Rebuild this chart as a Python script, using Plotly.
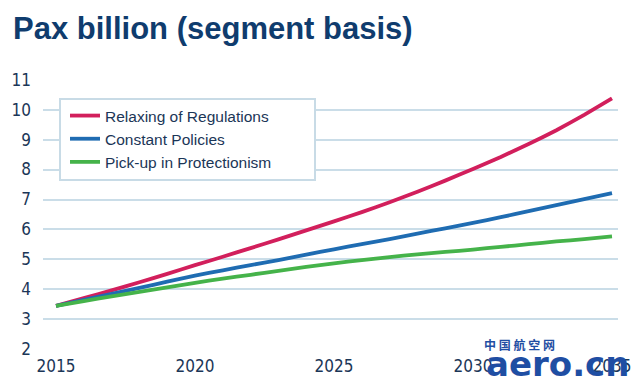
import plotly.graph_objects as go

years = list(range(2015, 2036))
relaxing = [3.45, 3.71, 3.97, 4.24, 4.52, 4.81, 5.09, 5.38, 5.67, 5.97, 6.27,
            6.58, 6.91, 7.26, 7.63, 8.02, 8.42, 8.85, 9.31, 9.82, 10.37]
constant = [3.45, 3.65, 3.85, 4.05, 4.26, 4.46, 4.64, 4.81, 4.98, 5.16, 5.34,
            5.51, 5.68, 5.86, 6.04, 6.22, 6.41, 6.61, 6.81, 7.01, 7.21]
protection = [3.45, 3.61, 3.77, 3.92, 4.07, 4.22, 4.36, 4.49, 4.62, 4.75, 4.87,
              4.98, 5.08, 5.17, 5.25, 5.33, 5.42, 5.51, 5.60, 5.68, 5.77]
series_names = ["Relaxing of Regulations", "Constant Policies", "Pick-up in Protectionism"]
series_colors = ["#d21f5c", "#1f6cb2", "#45b34a"]
x_ticks = [2015, 2020, 2025, 2030, 2035]
y_ticks = list(range(2, 12))
title_text = "Pax billion (segment basis)"

navy = "#1b3657"
tick_font = dict(family="Liberation Sans Narrow, DejaVu Sans Condensed, Liberation Sans, sans-serif",
                 size=17, color=navy)

# the page body has an 8px default margin; size the figure to fill the rest of the window
OFF = 8
W, H = 640 - OFF, 386 - OFF
ML, MR, MT, MB = 35, 22, 71, 36
PW, PH = W - ML - MR, H - MT - MB


def px_x(p):  # page pixel -> paper fraction
    return (p - OFF - ML) / PW


def px_y(p):
    return (H - MB - (p - OFF)) / PH


fig = go.Figure()
for name, vals, col in zip(series_names, [relaxing, constant, protection], series_colors):
    fig.add_trace(go.Scatter(x=years, y=vals, mode="lines", name=name,
                             line=dict(color=col, width=3.8, shape="spline", smoothing=0.3)))

fig.update_layout(
    width=W, height=H,
    margin=dict(l=ML, r=MR, t=MT, b=MB, autoexpand=False),
    paper_bgcolor="white", plot_bgcolor="white",
    title=dict(text="<b>" + title_text + "</b>", x=5 / W, xanchor="left", xref="container",
               y=1 - 20 / H, yanchor="middle", yref="container", pad=dict(l=0, t=0, b=0, r=0),
               font=dict(family="Liberation Sans, Arial, sans-serif", size=31, color="#0f3c6e")),
    xaxis=dict(range=[2014.532, 2035.216], tickvals=x_ticks, ticktext=[str(t) for t in x_ticks],
               showgrid=False, zeroline=False, showline=False, ticks="", tickfont=tick_font,
               ticklabelstandoff=4, automargin=False, fixedrange=True),
    yaxis=dict(range=[1.98, 11.02], tickvals=y_ticks, showgrid=True, gridcolor="#cadde8",
               gridwidth=2, zeroline=False, showline=False, ticks="", tickfont=tick_font,
               ticklabelstandoff=11, automargin=False, fixedrange=True),
    legend=dict(x=px_x(65), y=px_y(99), xanchor="left", yanchor="top",
                bgcolor="rgba(0,0,0,0)", borderwidth=0,
                font=dict(family="Liberation Sans, Arial, sans-serif", size=15.5, color=navy),
                itemwidth=30, tracegroupgap=0),
    showlegend=True,
)

# legend frame
fig.add_shape(type="rect", xref="paper", yref="paper", x0=px_x(60), x1=px_x(315),
              y0=px_y(180), y1=px_y(99), fillcolor="white",
              line=dict(color="#c8dbe6", width=2), layer="above")

# watermark
fig.add_annotation(text="<b>中 国 航 空 网</b>", xref="paper", yref="paper", x=px_x(482),
                   y=px_y(344), xanchor="left", yanchor="middle", showarrow=False,
                   font=dict(family="Noto Sans CJK SC", size=12, color="#1f4ea3"))
fig.add_annotation(text="<b>aero.cn</b>", xref="paper", yref="paper", x=px_x(484),
                   y=px_y(364), xanchor="left", yanchor="middle", showarrow=False,
                   font=dict(family="DejaVu Sans, sans-serif", size=34, color="#1f4ea3"))

fig.write_html("out.html")
